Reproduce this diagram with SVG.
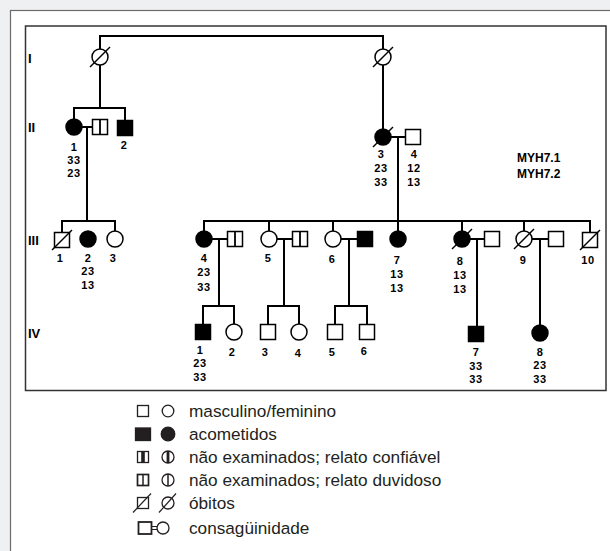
<svg xmlns="http://www.w3.org/2000/svg" xmlns:xlink="http://www.w3.org/1999/xlink" width="610" height="551" viewBox="0 0 610 551">
<style>
.ln{stroke:#000;stroke-width:2;fill:none}
.o{stroke:#000;stroke-width:1.5;fill:#fff}
.f{stroke:#000;stroke-width:1.5;fill:#000}
.sl{stroke:#000;stroke-width:1.4}
.num{font-family:"Liberation Sans",Arial,sans-serif;font-weight:bold;font-size:11px;text-anchor:middle;letter-spacing:0.6px;fill:#000}
.gen{font-family:"Liberation Sans",Arial,sans-serif;font-weight:bold;font-size:13px;fill:#000}
.myh{font-family:"Liberation Sans",Arial,sans-serif;font-weight:bold;font-size:12px;fill:#000}
.leg{font-family:"Liberation Sans",Arial,sans-serif;font-size:17.2px;fill:#231f20}
.ls{stroke:#231f20;stroke-width:1.3;fill:#fff}
.lf{stroke:#231f20;stroke-width:1.3;fill:#231f20}
</style>
<defs>
<circle id="c" r="8" class="o"/>
<circle id="cf" r="8" class="f"/>
<rect id="s" x="-7.5" y="-7.5" width="15" height="15" class="o"/>
<rect id="sf" x="-7.5" y="-7.5" width="15" height="15" class="f"/>
<g id="sb"><rect x="-7.5" y="-7.5" width="15" height="15" class="o"/><line x1="0" y1="-7.5" x2="0" y2="7.5" class="sl" style="stroke-width:1.8"/></g>
<line id="d" x1="-10" y1="10" x2="10" y2="-10" class="sl"/>
</defs>
<rect x="0" y="0" width="610" height="551" fill="#eff0f2"/>
<rect x="10.5" y="10.5" width="620" height="560" fill="#fff" stroke="#6b6b6b" stroke-width="1.2"/>
<rect x="25.5" y="26" width="580.5" height="364.5" fill="#fff" stroke="#333" stroke-width="1.5"/>

<g id="generations">
<text class="gen" x="28" y="63">I</text>
<text class="gen" x="28" y="132">II</text>
<text class="gen" x="28" y="245">III</text>
<text class="gen" x="28" y="338">IV</text>
</g>
<g id="markers">
<text class="myh" x="517" y="162">MYH7.1</text>
<text class="myh" x="517" y="178">MYH7.2</text>
</g>

<g id="connectors">
<path class="ln" d="M100,49 V36 H383 V49"/>
<path class="ln" d="M100,65 V108"/>
<path class="ln" d="M74,119 V108 H125 V120.5"/>
<path class="ln" d="M383,65 V129"/>
<path class="ln" d="M82,127 H92.5"/>
<path class="ln" d="M87,127 V221"/>
<path class="ln" d="M62,232.5 V221 H115 V231"/>
<path class="ln" d="M391,137 H405.5"/>
<path class="ln" d="M398,137 V231"/>
<path class="ln" d="M204,231 V221 H590 V232.5"/>
<path class="ln" d="M269,221 V231 M333,221 V231 M462,221 V231 M524,221 V231"/>
<path class="ln" d="M212,239 H227.5 M219,239 V306"/>
<path class="ln" d="M203,324.5 V306 H234 V324"/>
<path class="ln" d="M277,239 H292.5 M284,239 V306"/>
<path class="ln" d="M268,324.5 V306 H299 V324"/>
<path class="ln" d="M341,239 H357.5 M349,239 V306"/>
<path class="ln" d="M335,324.5 V306 H367 V324.5"/>
<path class="ln" d="M470,239 H484.5 M477,239 V326.5"/>
<path class="ln" d="M532,239 H548.5 M540,239 V325"/>
</g>

<g id="I-1"><use xlink:href="#c" x="100" y="57"/><use xlink:href="#d" x="100" y="57"/></g>
<g id="I-2"><use xlink:href="#c" x="383" y="57"/><use xlink:href="#d" x="383" y="57"/></g>

<g id="II-1"><use xlink:href="#cf" x="74" y="127"/>
<text class="num" x="74" y="151">1</text><text class="num" x="74" y="164">33</text><text class="num" x="74" y="177">23</text></g>
<g id="II-1-spouse"><use xlink:href="#sb" x="100" y="127"/></g>
<g id="II-2"><use xlink:href="#sf" x="125" y="128"/><text class="num" x="124" y="149">2</text></g>
<g id="II-3"><use xlink:href="#cf" x="383" y="137"/><use xlink:href="#d" x="383" y="137"/>
<text class="num" x="381" y="158">3</text><text class="num" x="381" y="172">23</text><text class="num" x="381" y="186">33</text></g>
<g id="II-4"><use xlink:href="#s" x="413" y="137"/>
<text class="num" x="414" y="158">4</text><text class="num" x="414" y="172">12</text><text class="num" x="414" y="186">13</text></g>

<g id="III-1"><use xlink:href="#s" x="62" y="240"/><use xlink:href="#d" x="62" y="240"/><text class="num" x="60" y="262">1</text></g>
<g id="III-2"><use xlink:href="#cf" x="88" y="239"/>
<text class="num" x="88" y="262">2</text><text class="num" x="88" y="275">23</text><text class="num" x="88" y="289">13</text></g>
<g id="III-3"><use xlink:href="#c" x="115" y="239"/><text class="num" x="113" y="262">3</text></g>
<g id="III-4"><use xlink:href="#cf" x="204" y="239"/>
<text class="num" x="204" y="262">4</text><text class="num" x="204" y="276">23</text><text class="num" x="204" y="291">33</text></g>
<g id="III-4-spouse"><use xlink:href="#sb" x="235" y="239"/></g>
<g id="III-5"><use xlink:href="#c" x="269" y="239"/><text class="num" x="268" y="262">5</text></g>
<g id="III-5-spouse"><use xlink:href="#sb" x="300" y="239"/></g>
<g id="III-6"><use xlink:href="#c" x="333" y="239"/><text class="num" x="332" y="263">6</text></g>
<g id="III-6-spouse"><use xlink:href="#sf" x="365" y="239"/></g>
<g id="III-7"><use xlink:href="#cf" x="398" y="239"/>
<text class="num" x="397" y="264">7</text><text class="num" x="397" y="278">13</text><text class="num" x="397" y="292">13</text></g>
<g id="III-8"><use xlink:href="#cf" x="462" y="239"/><use xlink:href="#d" x="462" y="239"/>
<text class="num" x="460" y="265">8</text><text class="num" x="460" y="279">13</text><text class="num" x="460" y="293">13</text></g>
<g id="III-8-spouse"><use xlink:href="#s" x="492" y="239"/></g>
<g id="III-9"><use xlink:href="#c" x="524" y="239"/><use xlink:href="#d" x="524" y="239"/><text class="num" x="523" y="264">9</text></g>
<g id="III-9-spouse"><use xlink:href="#s" x="556" y="239"/></g>
<g id="III-10"><use xlink:href="#s" x="590" y="240"/><use xlink:href="#d" x="590" y="240"/><text class="num" x="588" y="264">10</text></g>

<g id="IV-1"><use xlink:href="#sf" x="203" y="332"/>
<text class="num" x="200" y="354">1</text><text class="num" x="200" y="367">23</text><text class="num" x="200" y="381">33</text></g>
<g id="IV-2"><use xlink:href="#c" x="234" y="332"/><text class="num" x="232" y="356">2</text></g>
<g id="IV-3"><use xlink:href="#s" x="268" y="332"/><text class="num" x="265" y="356">3</text></g>
<g id="IV-4"><use xlink:href="#c" x="299" y="332"/><text class="num" x="298" y="357">4</text></g>
<g id="IV-5"><use xlink:href="#s" x="335" y="332"/><text class="num" x="332" y="356">5</text></g>
<g id="IV-6"><use xlink:href="#s" x="367" y="332"/><text class="num" x="364" y="355">6</text></g>
<g id="IV-7"><use xlink:href="#sf" x="476" y="334"/>
<text class="num" x="476" y="356">7</text><text class="num" x="476" y="370">33</text><text class="num" x="476" y="383">33</text></g>
<g id="IV-8"><use xlink:href="#cf" x="540" y="333"/>
<text class="num" x="540" y="356">8</text><text class="num" x="540" y="369">23</text><text class="num" x="540" y="383">33</text></g>

<g id="legend">
<rect class="ls" x="137.5" y="405.5" width="11" height="11"/>
<circle class="ls" cx="168" cy="411" r="5.8"/>
<text class="leg" x="189" y="417">masculino/feminino</text>

<rect class="lf" x="135.5" y="428" width="15" height="12.5"/>
<circle class="lf" cx="168" cy="434" r="6.8"/>
<text class="leg" x="189" y="440">acometidos</text>

<rect class="ls" x="137.5" y="451.5" width="11" height="11"/>
<rect x="141.2" y="451.5" width="3.6" height="11" fill="#231f20"/>
<circle class="ls" cx="168" cy="457" r="6"/>
<rect x="166.6" y="451" width="2.8" height="12" fill="#231f20"/>
<text class="leg" x="189" y="463">não examinados; relato confiável</text>

<rect class="ls" x="137.5" y="474.5" width="11" height="11" style="stroke-width:1.7"/>
<line x1="143" y1="474.5" x2="143" y2="485.5" stroke="#231f20" stroke-width="1.5"/>
<circle class="ls" cx="168" cy="480" r="6"/>
<line x1="168" y1="474" x2="168" y2="486" stroke="#231f20" stroke-width="1.5"/>
<text class="leg" x="189" y="486">não examinados; relato duvidoso</text>

<rect class="ls" x="137.5" y="497.5" width="11" height="11"/>
<line x1="133" y1="512.5" x2="151" y2="493.5" stroke="#231f20" stroke-width="1.2"/>
<circle class="ls" cx="168" cy="503" r="6"/>
<line x1="159" y1="512.5" x2="176" y2="493.5" stroke="#231f20" stroke-width="1.2"/>
<text class="leg" x="189" y="509">óbitos</text>

<rect class="ls" x="138.5" y="522" width="13" height="12" style="stroke-width:1.8"/>
<line x1="151.5" y1="526.5" x2="157" y2="526.5" stroke="#231f20" stroke-width="1"/>
<line x1="151.5" y1="529.5" x2="157" y2="529.5" stroke="#231f20" stroke-width="1"/>
<circle class="ls" cx="163" cy="528" r="6"/>
<text class="leg" x="189" y="534">consagüinidade</text>
</g>
</svg>
